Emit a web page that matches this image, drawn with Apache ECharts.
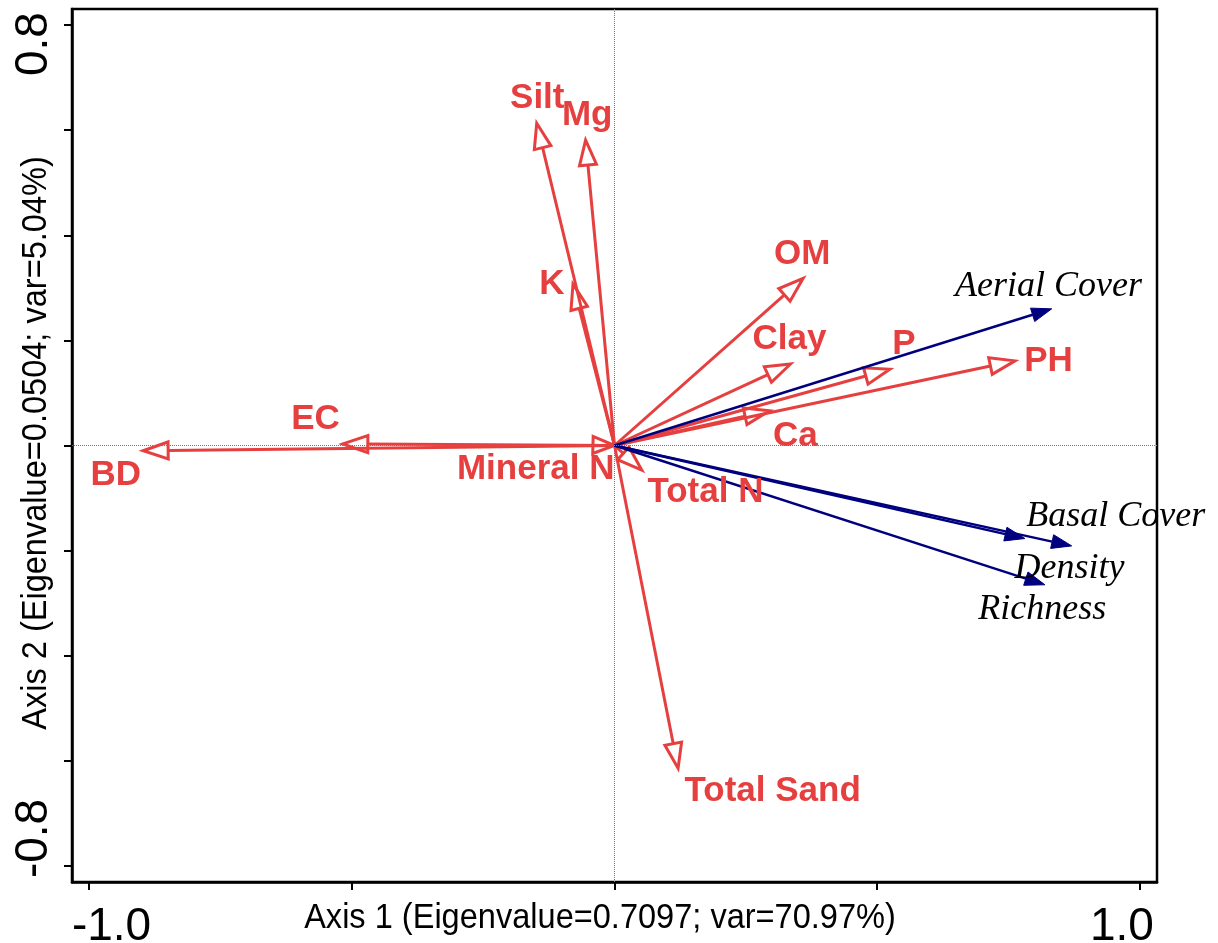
<!DOCTYPE html>
<html>
<head>
<meta charset="utf-8">
<script src="https://cdn.jsdelivr.net/npm/echarts@6/dist/echarts.min.js"></script>
<style>
html,body{margin:0;padding:0;background:#fff;}
#chart{width:1218px;height:943px;}
</style>
</head>
<body>
<div id="chart"></div>
<script>
// ---- Data ----
const envNames = ['BD','EC','Silt','Mg','K','OM','Clay','P','PH','Ca','Mineral N','Total N','Total Sand'];
const envX = [-0.897,-0.517,-0.148,-0.055,-0.079,0.359,0.335,0.524,0.762,0.295,-0.041,0.052,0.121];
const envY = [-0.010,0.003,0.613,0.581,0.307,0.318,0.155,0.145,0.161,0.066,0.001,-0.047,-0.614];
const envLabelX = [-0.949,-0.569,-0.147,-0.052,-0.119,0.357,0.333,0.551,0.826,0.344,-0.150,0.173,0.301];
const envLabelY = [-0.057,0.050,0.661,0.628,0.306,0.363,0.202,0.193,0.160,0.017,-0.046,-0.090,-0.658];

const spNames = ['Aerial Cover','Basal Cover','Density','Richness'];
const spX = [0.832,0.870,0.781,0.819];
const spY = [0.260,-0.191,-0.177,-0.265];
const spLabelX = [0.826,0.954,0.866,0.814];
const spLabelY = [0.302,-0.136,-0.235,-0.312];

const xTickVals = [-1,-0.5,0,0.5,1];
const xLabelVals = [-1,1];
const yTickVals = [-0.8,-0.6,-0.4,-0.2,0,0.2,0.4,0.6,0.8];
const yLabelVals = [-0.8,0.8];
const xTitle = 'Axis 1 (Eigenvalue=0.7097; var=70.97%)';
const yTitle = 'Axis 2 (Eigenvalue=0.0504; var=5.04%)';

// ---- Styles ----
const RED = '#E5403F';
const BLUE = '#00007F';
const SANS = '"Liberation Sans", Arial, sans-serif';
const SERIF = '"Liberation Serif", "Times New Roman", serif';

function makeArrowRenderer(color, lineW, headLen, headW, filled) {
  return function (params, api) {
    const x = api.value(0), y = api.value(1);
    const o = api.coord([0, 0]);
    const t = api.coord([x, y]);
    const dx = t[0] - o[0], dy = t[1] - o[1];
    const L = Math.hypot(dx, dy) || 1;
    const ux = dx / L, uy = dy / L;
    const px = -uy, py = ux;
    let tip, base;
    const children = [];
    if (L < headLen) {
      tip = o; base = t;
    } else {
      tip = t; base = [t[0] - ux * headLen, t[1] - uy * headLen];
      children.push({
        type: 'line',
        shape: { x1: o[0], y1: o[1], x2: base[0], y2: base[1] },
        style: { stroke: color, lineWidth: lineW }
      });
    }
    children.push({
      type: 'polygon',
      shape: { points: [tip, [base[0] + px * headW, base[1] + py * headW], [base[0] - px * headW, base[1] - py * headW]] },
      style: { fill: filled ? color : 'none', stroke: color, lineWidth: filled ? 1 : lineW, lineJoin: 'miter' }
    });
    return { type: 'group', children: children };
  };
}

function labelRenderer(font, color) {
  return function (params, api) {
    const p = api.coord([api.value(0), api.value(1)]);
    return {
      type: 'text',
      style: {
        text: api.value(2), x: p[0], y: p[1],
        font: font, fill: color, align: 'center', verticalAlign: 'middle'
      }
    };
  };
}

const envData = envNames.map((n, i) => [envX[i], envY[i], n]);
const spData = spNames.map((n, i) => [spX[i], spY[i], n]);
const envLabelData = envNames.map((n, i) => [envLabelX[i], envLabelY[i], n]);
const spLabelData = spNames.map((n, i) => [spLabelX[i], spLabelY[i], n]);

const tickFont = { fontSize: 46, fontFamily: SANS, color: '#000' };

const chart = echarts.init(document.getElementById('chart'), null, { renderer: 'canvas' });
chart.setOption({
  animation: false,
  backgroundColor: '#fff',
  grid: {
    left: 72, right: 61, top: 9, bottom: 61,
    show: true, borderColor: '#000', borderWidth: 2.5,
    containLabel: false, outerBoundsMode: 'none'
  },
  xAxis: {
    type: 'value', min: -1.0324, max: 1.0324,
    axisLine: { show: true, onZero: false, lineStyle: { color: '#000', width: 2.5 } },
    axisTick: { show: true, inside: false, length: 8, customValues: xTickVals, lineStyle: { color: '#000', width: 2 } },
    axisLabel: {
      show: true, customValues: xLabelVals, margin: 22,
      fontSize: 46, fontFamily: SANS, color: '#000',
      formatter: v => (v < 0 ? '{lo|' : '{hi|') + v.toFixed(1) + '}',
      rich: {
        lo: Object.assign({ padding: [0, 0, 0, 45] }, tickFont),
        hi: Object.assign({ padding: [0, 36, 0, 0] }, tickFont)
      }
    },
    splitLine: { show: false }
  },
  yAxis: {
    type: 'value', min: -0.8305, max: 0.8305,
    axisLine: { show: true, onZero: false, lineStyle: { color: '#000', width: 2.5 } },
    axisTick: { show: true, inside: false, length: 8, customValues: yTickVals, lineStyle: { color: '#000', width: 2 } },
    axisLabel: {
      show: true, customValues: yLabelVals, rotate: 90, margin: 15,
      fontSize: 46, fontFamily: SANS, color: '#000',
      formatter: v => (v < 0 ? '{lo|' : '{hi|') + v.toFixed(1) + '}',
      rich: {
        lo: Object.assign({ padding: [0, 0, 0, 55] }, tickFont),
        hi: Object.assign({ padding: [0, 38, 0, 0] }, tickFont)
      }
    },
    splitLine: { show: false }
  },
  graphic: [
    { type: 'text', x: 600, y: 918, scaleX: 0.93, style: { text: xTitle, font: '35px ' + SANS, fill: '#000', align: 'center', verticalAlign: 'middle' } },
    { type: 'text', x: 36, y: 443, rotation: Math.PI / 2, scaleX: 0.93, style: { text: yTitle, font: '35px ' + SANS, fill: '#000', align: 'center', verticalAlign: 'middle' } }
  ],
  series: [
    {
      type: 'scatter', data: [], silent: true,
      markLine: {
        silent: true, symbol: 'none', label: { show: false },
        lineStyle: { type: 'dotted', color: '#777', width: 1 },
        data: [{ xAxis: 0 }, { yAxis: 0 }]
      }
    },
    { type: 'custom', renderItem: makeArrowRenderer(RED, 3, 25, 8.5, false), data: envData, silent: true, z: 3 },
    { type: 'custom', renderItem: makeArrowRenderer(BLUE, 2.5, 20, 7, true), data: spData, silent: true, z: 4 },
    { type: 'custom', renderItem: labelRenderer('bold 35px ' + SANS, RED), data: envLabelData, silent: true, z: 5 },
    { type: 'custom', renderItem: labelRenderer('italic 36px ' + SERIF, '#000'), data: spLabelData, silent: true, z: 5 }
  ]
});
</script>
</body>
</html>
